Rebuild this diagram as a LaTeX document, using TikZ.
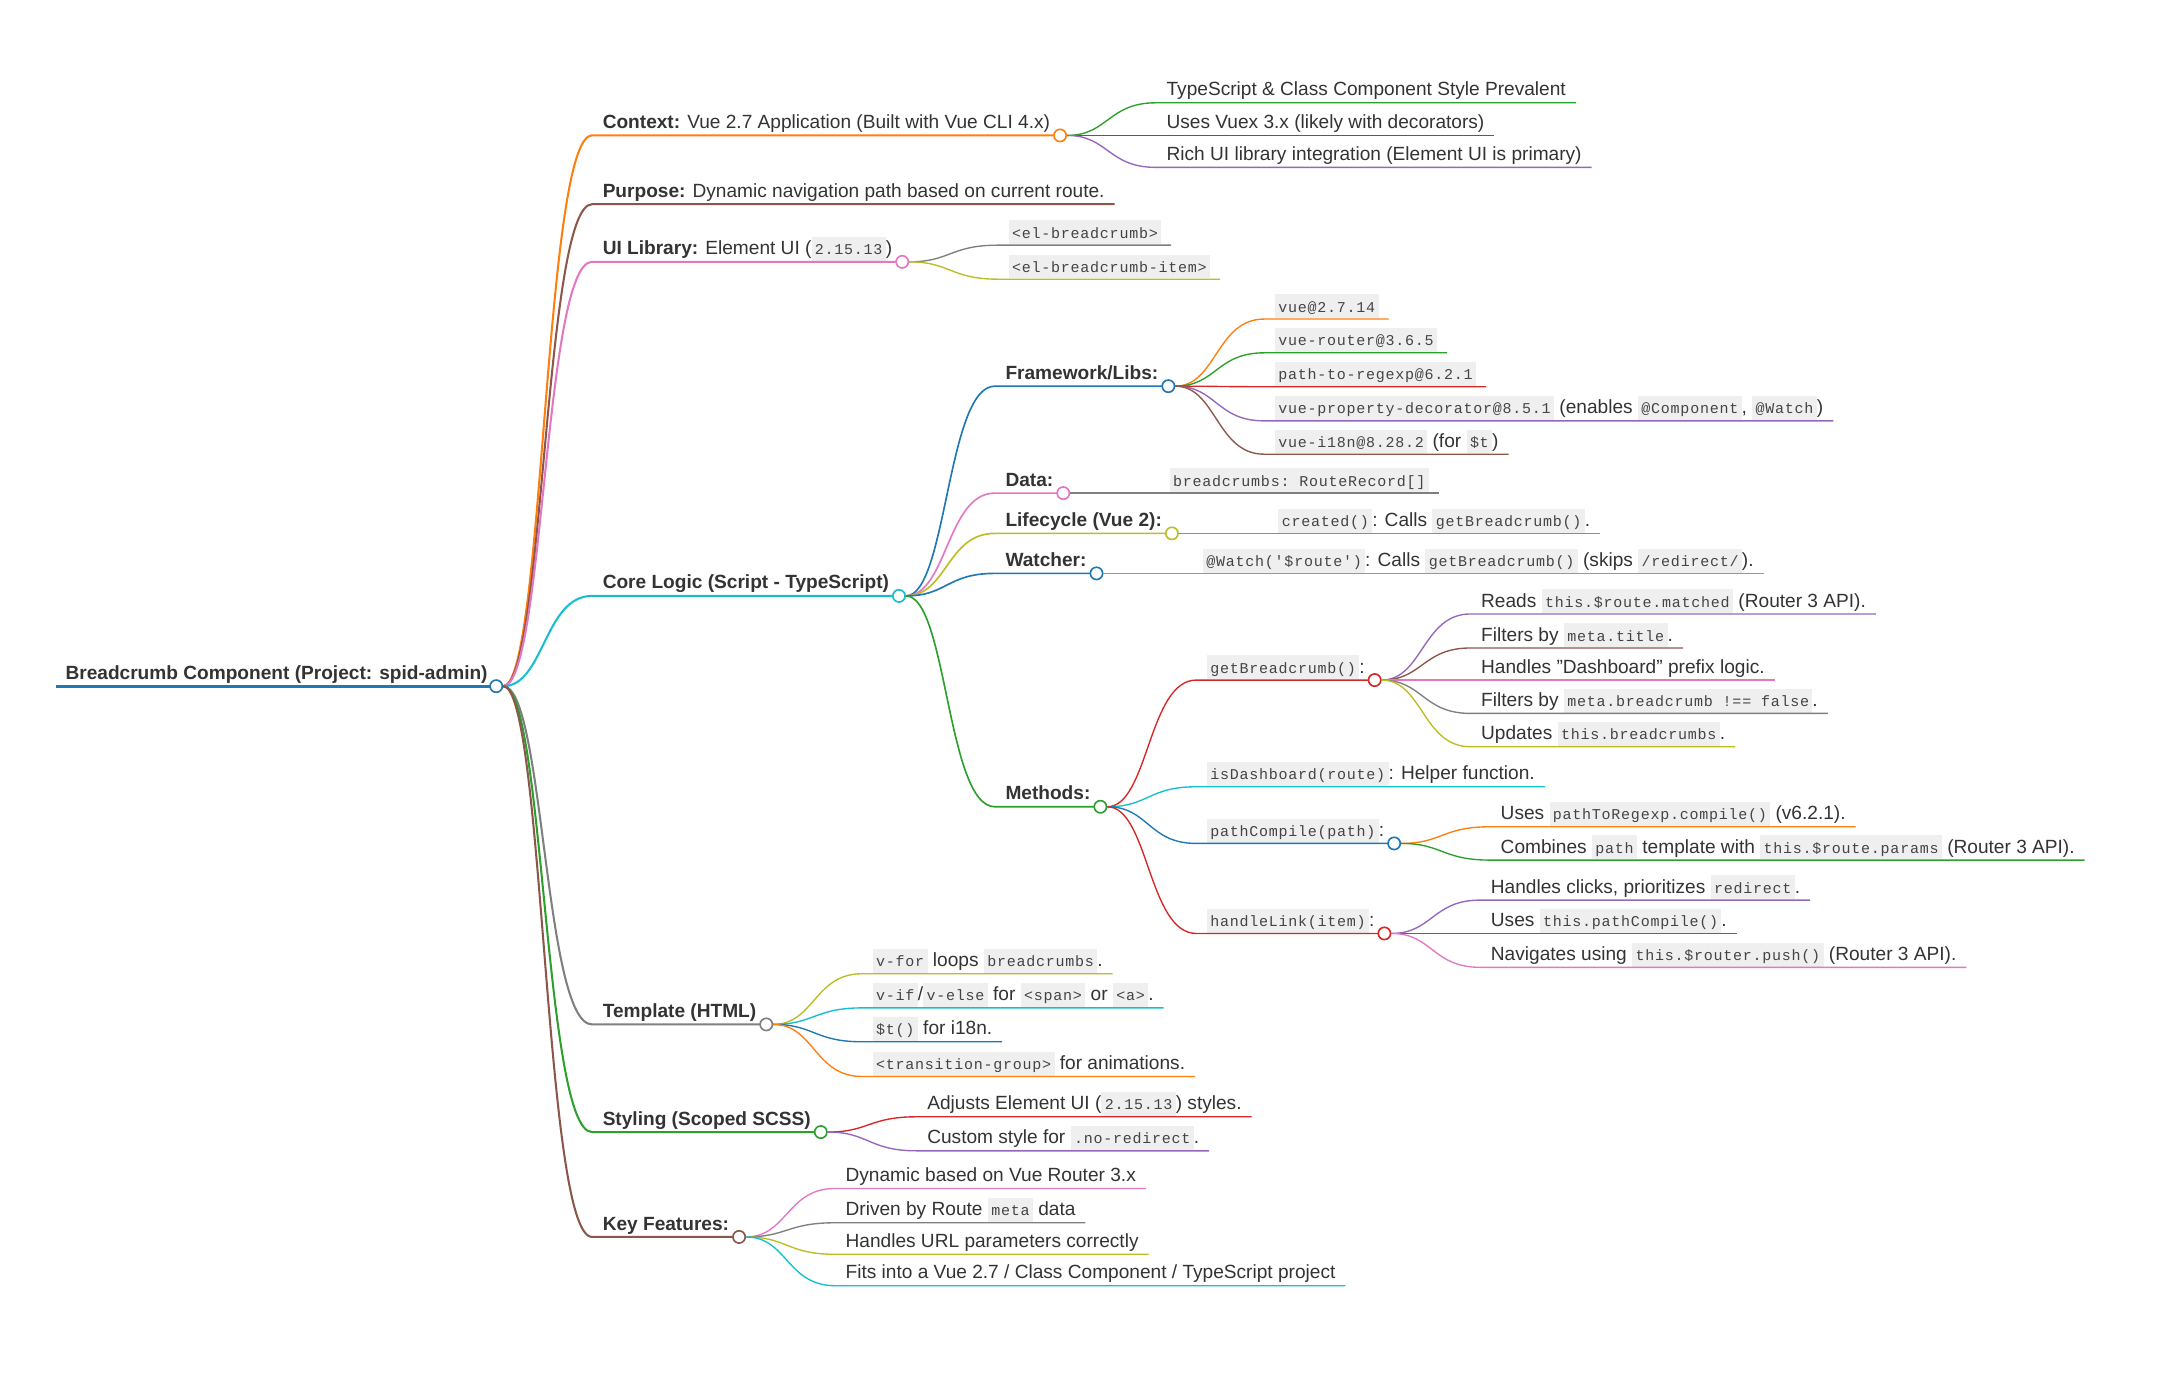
\documentclass[tikz,border=0pt]{standalone}
\usepackage{fontspec}
\setmainfont{Liberation Sans}
\setmonofont{Liberation Mono}[LetterSpace=5]
\usetikzlibrary{calc}
\definecolor{mmblue}{HTML}{1F77B4}
\definecolor{mmorange}{HTML}{FF7F0E}
\definecolor{mmgreen}{HTML}{2CA02C}
\definecolor{mmred}{HTML}{D62728}
\definecolor{mmpurple}{HTML}{9467BD}
\definecolor{mmbrown}{HTML}{8C564B}
\definecolor{mmpink}{HTML}{E377C2}
\definecolor{mmgray}{HTML}{7F7F7F}
\definecolor{mmolive}{HTML}{BCBD22}
\definecolor{mmcyan}{HTML}{17BECF}
\definecolor{mmtxt}{HTML}{333333}
\definecolor{mmcodebg}{HTML}{EFEFEF}
\definecolor{mmcodetxt}{HTML}{444444}
\setlength{\fboxsep}{0pt}
\newcommand{\mmcode}[1]{\colorbox{mmcodebg}{\rule[-4.5pt]{0pt}{17.5pt}\hspace{2.5pt}{\ttfamily\fontsize{11}{12}\selectfont\color{mmcodetxt}#1}\hspace{2.5pt}}}
\tikzset{
  mmtext/.style={anchor=base west, inner sep=0pt, text=mmtxt, font=\fontsize{14}{16}\selectfont},
  mmdot/.style={circle, draw=#1, fill=white, line width=1.2pt, minimum size=9pt, inner sep=0pt},
}
% name, parent hub, y, colour, line width, text
\newcommand{\mmnode}[6]{%
  \path (#2) ++(69,0) coordinate (#1-x) (0,#3) coordinate (#1-y);
  \coordinate (#1-s) at (#1-x |- #1-y);
  \node[mmtext] (#1) at ($(#1-s)+(7.5,-5)$) {#6};
  \coordinate (#1-e) at ($(#1.east |- #1-s)+(7,0)$);
  \path ($(#2)!.5!(#1-s)$) coordinate (#1-m);
  \draw[#4, line width=#5pt] (#2) .. controls (#1-m |- #2) and (#1-m |- #1-s) .. (#1-s) -- (#1-e);
}
\newcommand{\mmhub}[2]{\node[mmdot=#2] (#1-c) at (#1-e) {};}

\begin{document}
\begin{tikzpicture}[x=1.018pt,y=-1.018pt]
  \useasboundingbox (0,0) rectangle (1568,995);

  % root
  \coordinate (root-s) at (40,494);
  \node[mmtext] (root) at ($(root-s)+(7,-5)$) {\textbf{Breadcrumb Component (Project: spid-admin)}};
  \coordinate (root-e) at ($(root.east |- root-s)+(6,0)$);
  \draw[mmblue, line width=2.2pt] (root-s) -- (root-e);
  \node[mmdot=mmblue] (root-c) at (root-e) {};

  % context
  \mmnode{ctx}{root-c}{97.5}{mmorange}{1.5}{\textbf{Context:} Vue 2.7 Application (Built with Vue CLI 4.x)}
  \mmhub{ctx}{mmorange}
  \mmnode{ctx-ts}{ctx-c}{74}{mmgreen}{1}{TypeScript \& Class Component Style Prevalent}
  \mmnode{ctx-vuex}{ctx-c}{97.5}{mmred}{1}{Uses Vuex 3.x (likely with decorators)}
  \mmnode{ctx-ui}{ctx-c}{120.5}{mmpurple}{1}{Rich UI library integration (Element UI is primary)}

  \mmnode{pur}{root-c}{147}{mmbrown}{1.5}{\textbf{Purpose:} Dynamic navigation path based on current route.}

  % ui library
  \mmnode{uil}{root-c}{188.5}{mmpink}{1.5}{\textbf{UI Library:} Element UI (\mmcode{2.15.13})}
  \mmhub{uil}{mmpink}
  \mmnode{uil-bc}{uil-c}{176.5}{mmgray}{1}{\mmcode{<el-breadcrumb>}}
  \mmnode{uil-bci}{uil-c}{201}{mmolive}{1}{\mmcode{<el-breadcrumb-item>}}

  % core logic
  \mmnode{core}{root-c}{429}{mmcyan}{1.5}{\textbf{Core Logic (Script - TypeScript)}}
  \mmhub{core}{mmcyan}
  \mmnode{fw}{core-c}{278}{mmblue}{1.2}{\textbf{Framework/Libs:}}
  \mmhub{fw}{mmblue}
  \mmnode{fw-vue}{fw-c}{229.7}{mmorange}{1}{\mmcode{vue@2.7.14}}
  \mmnode{fw-router}{fw-c}{254}{mmgreen}{1}{\mmcode{vue-router@3.6.5}}
  \mmnode{fw-p2r}{fw-c}{278.4}{mmred}{1}{\mmcode{path-to-regexp@6.2.1}}
  \mmnode{fw-vpd}{fw-c}{303}{mmpurple}{1}{\mmcode{vue-property-decorator@8.5.1} (enables \mmcode{@Component}, \mmcode{@Watch})}
  \mmnode{fw-i18n}{fw-c}{327}{mmbrown}{1}{\mmcode{vue-i18n@8.28.2} (for \mmcode{\$t})}
  \mmnode{data}{core-c}{355}{mmpink}{1.2}{\textbf{Data:}}
  \mmhub{data}{mmpink}
  \mmnode{data-bc}{data-c}{355}{mmgray}{1}{\mmcode{breadcrumbs: RouteRecord[]}}
  \mmnode{life}{core-c}{384}{mmolive}{1.2}{\textbf{Lifecycle (Vue 2):}}
  \mmhub{life}{mmolive}
  \mmnode{life-cr}{life-c}{384}{mmcyan}{1}{\mmcode{created()}: Calls \mmcode{getBreadcrumb()}.}
  \mmnode{watch}{core-c}{412.8}{mmblue}{1.2}{\textbf{Watcher:}}
  \mmhub{watch}{mmblue}
  \mmnode{watch-rt}{watch-c}{412.8}{mmorange}{1}{\mmcode{@Watch('\$route')}: Calls \mmcode{getBreadcrumb()} (skips \mmcode{/redirect/}).}
  \mmnode{meth}{core-c}{580.8}{mmgreen}{1.2}{\textbf{Methods:}}
  \mmhub{meth}{mmgreen}

  % methods
  \mmnode{gb}{meth-c}{489.6}{mmred}{1}{\mmcode{getBreadcrumb()}:}
  \mmhub{gb}{mmred}
  \mmnode{gb-read}{gb-c}{442}{mmpurple}{1}{Reads \mmcode{this.\$route.matched} (Router 3 API).}
  \mmnode{gb-title}{gb-c}{466.5}{mmbrown}{1}{Filters by \mmcode{meta.title}.}
  \mmnode{gb-dash}{gb-c}{489.6}{mmpink}{1}{Handles "Dashboard" prefix logic.}
  \mmnode{gb-filt}{gb-c}{513.6}{mmgray}{1}{Filters by \mmcode{meta.breadcrumb !== false}.}
  \mmnode{gb-upd}{gb-c}{537.6}{mmolive}{1}{Updates \mmcode{this.breadcrumbs}.}
  \mmnode{isd}{meth-c}{566.4}{mmcyan}{1}{\mmcode{isDashboard(route)}: Helper function.}
  \mmnode{pc}{meth-c}{607.2}{mmblue}{1}{\mmcode{pathCompile(path)}:}
  \mmhub{pc}{mmblue}
  \mmnode{pc-use}{pc-c}{595.2}{mmorange}{1}{Uses \mmcode{pathToRegexp.compile()} (v6.2.1).}
  \mmnode{pc-comb}{pc-c}{619.2}{mmgreen}{1}{Combines \mmcode{path} template with \mmcode{this.\$route.params} (Router 3 API).}
  \mmnode{hl}{meth-c}{672}{mmred}{1}{\mmcode{handleLink(item)}:}
  \mmhub{hl}{mmred}
  \mmnode{hl-click}{hl-c}{648}{mmpurple}{1}{Handles clicks, prioritizes \mmcode{redirect}.}
  \mmnode{hl-use}{hl-c}{672}{mmbrown}{1}{Uses \mmcode{this.pathCompile()}.}
  \mmnode{hl-nav}{hl-c}{696.4}{mmpink}{1}{Navigates using \mmcode{this.\$router.push()} (Router 3 API).}

  % template
  \mmnode{tpl}{root-c}{737.5}{mmgray}{1.5}{\textbf{Template (HTML)}}
  \mmhub{tpl}{mmgray}
  \mmnode{tpl-for}{tpl-c}{701}{mmolive}{1}{\mmcode{v-for} loops \mmcode{breadcrumbs}.}
  \mmnode{tpl-if}{tpl-c}{725.6}{mmcyan}{1}{\mmcode{v-if}/\mmcode{v-else} for \mmcode{<span>} or \mmcode{<a>}.}
  \mmnode{tpl-t}{tpl-c}{750}{mmblue}{1}{\mmcode{\$t()} for i18n.}
  \mmnode{tpl-tg}{tpl-c}{775}{mmorange}{1}{\mmcode{<transition-group>} for animations.}

  % styling
  \mmnode{sty}{root-c}{815}{mmgreen}{1.5}{\textbf{Styling (Scoped SCSS)}}
  \mmhub{sty}{mmgreen}
  \mmnode{sty-adj}{sty-c}{804}{mmred}{1}{Adjusts Element UI (\mmcode{2.15.13}) styles.}
  \mmnode{sty-cust}{sty-c}{828.5}{mmpurple}{1}{Custom style for \mmcode{.no-redirect}.}

  % key features
  \mmnode{key}{root-c}{890.5}{mmbrown}{1.5}{\textbf{Key Features:}}
  \mmhub{key}{mmbrown}
  \mmnode{key-dyn}{key-c}{855.6}{mmpink}{1}{Dynamic based on Vue Router 3.x}
  \mmnode{key-meta}{key-c}{880.3}{mmgray}{1}{Driven by Route \mmcode{meta} data}
  \mmnode{key-url}{key-c}{903}{mmolive}{1}{Handles URL parameters correctly}
  \mmnode{key-fit}{key-c}{925.6}{mmcyan}{1}{Fits into a Vue 2.7 / Class Component / TypeScript project}
\end{tikzpicture}
\end{document}
